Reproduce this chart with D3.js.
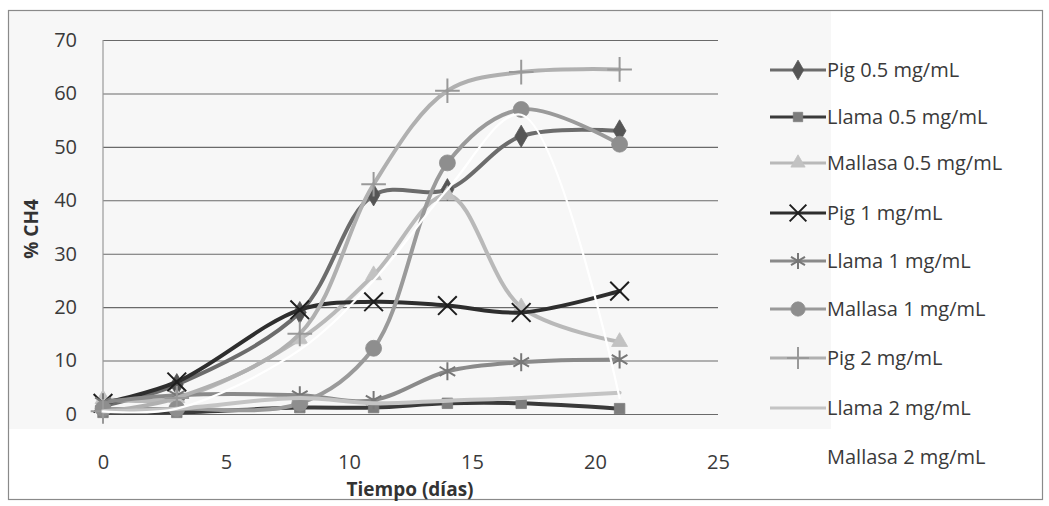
<!DOCTYPE html>
<html><head><meta charset="utf-8">
<script src="https://cdn.jsdelivr.net/npm/d3@7"></script>
<style>
body{margin:0;background:#fff}
text{font-family:"Open Sans",Lato,sans-serif}
</style>
</head><body>
<svg id="c" width="1049" height="506"></svg>
<script>
// ---- data ----
const days = [0, 3, 8, 11, 14, 17, 21];
const seriesNames = ["Pig 0.5 mg/mL","Llama 0.5 mg/mL","Mallasa 0.5 mg/mL","Pig 1 mg/mL","Llama 1 mg/mL","Mallasa 1 mg/mL","Pig 2 mg/mL","Llama 2 mg/mL","Mallasa 2 mg/mL"];
const pig05     = [1.5, 5.5, 19, 41, 42, 52, 53];
const llama05   = [0.3, 0.3, 1.2, 1.2, 2, 2, 1];
const mallasa05 = [2.8, 3, 14, 26, 41, 20, 13.5];
const pig1      = [2, 6, 19.5, 21, 20.3, 19, 23];
const llama1    = [2.2, 3.5, 3.5, 2.6, 8, 9.7, 10.2];
const mallasa1  = [1, 1, 2, 12.3, 47, 57, 50.5];
const pig2      = [0.5, 3, 15, 43, 60.5, 64, 64.5];
const llama2    = [0.5, 1, 3, 2, 2.5, 3, 4];
const mallasa2  = [0.5, 1, 12, 25, 42, 56, 3];
const yTicks = [0, 10, 20, 30, 40, 50, 60, 70];
const xTicks = [0, 5, 10, 15, 20, 25];

// ---- style (not data) ----
const styles = [
  {line:"#6c6c6c", mark:"#555", sym:"diamond"},
  {line:"#3a3a3a", mark:"#7d7d7d", sym:"square"},
  {line:"#b9b9b9", mark:"#c2c2c2", sym:"triangle"},
  {line:"#2e2e2e", mark:"#1e1e1e", sym:"x"},
  {line:"#8a8a8a", mark:"#777", sym:"asterisk"},
  {line:"#9a9a9a", mark:"#8e8e8e", sym:"circle"},
  {line:"#b0b0b0", mark:"#999", sym:"plus"},
  {line:"#c4c4c4", mark:null, sym:null},
  {line:"#ffffff", mark:null, sym:null}
];
const values = [pig05, llama05, mallasa05, pig1, llama1, mallasa1, pig2, llama2, mallasa2];

const svg = d3.select("#c");
const x = d3.scaleLinear().domain([0, 25]).range([103, 718]);
const y = d3.scaleLinear().domain([0, 70]).range([414, 40]);

// backgrounds
svg.append("rect").attr("x",0).attr("y",0).attr("width",1049).attr("height",506).attr("fill","#fff");
svg.append("rect").attr("x",9).attr("y",11).attr("width",822).attr("height",418).attr("fill","#f7f7f7");
svg.append("rect").attr("x",8.5).attr("y",10.5).attr("width",1034).attr("height",489)
  .attr("fill","none").attr("stroke","#8a8a8a").attr("stroke-width",1.2);

// grid + y axis
const gy = svg.append("g").attr("transform","translate(103,0)")
  .call(d3.axisLeft(y).tickValues(yTicks).tickSize(-615).tickPadding(26));
gy.select(".domain").remove();
gy.selectAll(".tick line").attr("stroke","#6a6a6a").attr("stroke-width",1.1);
gy.selectAll(".tick text").attr("fill","#3a3a3a").style("font-size","20px");
svg.append("line").attr("x1",103).attr("x2",103).attr("y1",40).attr("y2",414)
  .attr("stroke","#999").attr("stroke-width",1.2);

// x axis labels
const gx = svg.append("g").attr("transform","translate(0,414)")
  .call(d3.axisBottom(x).tickValues(xTicks).tickSize(0).tickPadding(41));
gx.select(".domain").remove();
gx.selectAll(".tick text").attr("fill","#3a3a3a").style("font-size","20px");

// titles
svg.append("text").attr("x",410).attr("y",496).attr("text-anchor","middle")
  .attr("font-weight","bold").attr("fill","#333").style("font-size","19px").text("Tiempo  (días)");
svg.append("text").attr("transform","translate(38,229) rotate(-90)").attr("text-anchor","middle")
  .attr("font-weight","bold").attr("fill","#333").style("font-size","19px").text("% CH4");

// marker drawing
function symPath(s, size){
  const map = {diamond:d3.symbolDiamond, square:d3.symbolSquare, triangle:d3.symbolTriangle,
    circle:d3.symbolCircle, x:d3.symbolX, asterisk:d3.symbolAsterisk, plus:d3.symbolPlus};
  return d3.symbol().type(map[s]).size(size)();
}
const strokeSyms = new Set(["x","asterisk","plus"]);
const sizes = {diamond:140, square:110, triangle:110, circle:200, x:230, asterisk:230, plus:200};
function drawMarker(g, st, cx, cy, scale){
  if(!st.sym) return;
  const p = g.append("path").attr("d", symPath(st.sym, sizes[st.sym]*scale))
    .attr("transform",`translate(${cx},${cy})`);
  if(strokeSyms.has(st.sym)) p.attr("fill","none").attr("stroke",st.mark).attr("stroke-width",2);
  else p.attr("fill",st.mark).attr("stroke",st.mark).attr("stroke-width",0.8);
}

const line = d3.line().x(d=>x(d[0])).y(d=>y(d[1])).curve(d3.curveCatmullRom.alpha(0.5));
const plot = svg.append("g");
values.forEach((vals, i) => {
  const st = styles[i];
  const pts = days.map((d, j) => [d, vals[j]]);
  const g = plot.append("g");
  g.append("path").datum(pts).attr("d", line).attr("fill","none")
    .attr("stroke", st.line).attr("stroke-width", i===8 ? 2.2 : 4).attr("stroke-linecap","round");
  pts.forEach(p => drawMarker(g, st, x(p[0]), y(p[1]), 1));
});

// legend
const lg = svg.append("g");
const legendY = [70, 117, 163, 213, 261, 309, 358, 408, 457];
seriesNames.forEach((name, i) => {
  const st = styles[i];
  const yy = legendY[i];
  if(i < 8){
    lg.append("line").attr("x1",770).attr("x2",826).attr("y1",yy).attr("y2",yy)
      .attr("stroke",st.line).attr("stroke-width",3);
    drawMarker(lg, st, 798, yy, 0.8);
  }
  lg.append("text").attr("x",827).attr("y",yy).attr("dy","0.35em").attr("fill","#3a3a3a")
    .style("font-size","20px").text(name);
});
</script>
</body></html>
